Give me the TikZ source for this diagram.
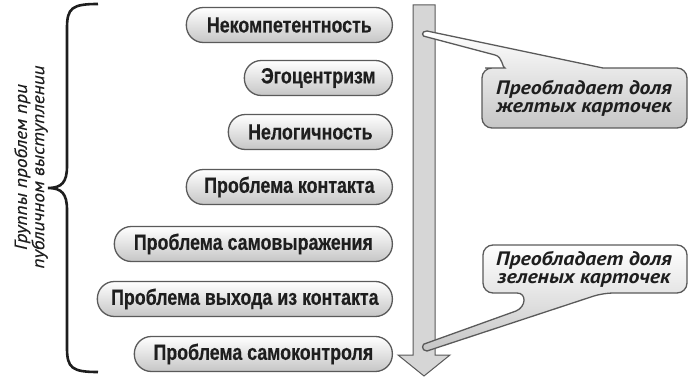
\documentclass[tikz,border=0pt]{standalone}
\usepackage{fontspec}
\setmainfont{Liberation Sans}
\newfontfamily\pillfont{Liberation Sans Bold}[FakeStretch=0.81,FakeBold=0.4]
\newfontfamily\tagfont{PT Sans Bold Italic}[FakeStretch=1.12]
\newfontfamily\sidefont{PT Sans Italic}[FakeStretch=1.1,FakeBold=0.4]
\usetikzlibrary{positioning}
\definecolor{Ink}{HTML}{1E1E1E}
\definecolor{Rim}{HTML}{5A5A5A}
\definecolor{Shaft}{HTML}{D6D6D6}

\begin{document}
\begin{tikzpicture}[x=1pt,y=-1pt,
    pill/.style={draw=Rim,line width=1.3pt,rounded corners=17pt,minimum height=35pt,
      top color=white,bottom color=gray!45,text=Ink,anchor=east,inner xsep=0pt,
      font=\pillfont\fontsize{22}{24}\selectfont},
    tag/.style={draw=Rim,line width=1.3pt,top color=white,bottom color=gray!45},
    tagtext/.style={align=center,text=Ink,font=\tagfont\fontsize{19.5}{18}\selectfont},
    shaft/.style={draw=gray!70!black,line width=1pt,fill=Shaft}
  ]
    \useasboundingbox (0,0) rectangle (688,377);
    % brace and its caption
    \draw[line width=2.6pt,Ink] (98,4) .. controls (72,4) and (67,8) .. (67,28) -- (67,166)
      .. controls (67,182) and (62,188) .. (48,188) .. controls (62,188) and (67,194) .. (67,210)
      -- (67,348) .. controls (67,368) and (72,372) .. (98,372);
    \node[rotate=90,align=center,text=Ink,font=\sidefont\fontsize{17.5}{14.5}\selectfont] (groups)
      at (31,167) {Группы проблем при\\публичном выступлении};
    % problem groups
    \node[pill,minimum width=206pt] (incomp) at (393,25) {Некомпетентность};
    \node[pill,minimum width=148pt] (egocentr) at (393,78) {Эгоцентризм};
    \node[pill,minimum width=164pt] (illogic) at (393,132) {Нелогичность};
    \node[pill,minimum width=206pt] (contact) at (393,187) {Проблема контакта};
    \node[pill,minimum width=278pt] (selfexpr) at (393,244) {Проблема самовыражения};
    \node[pill,minimum width=295pt] (exit) at (393,299) {Проблема выхода из контакта};
    \node[pill,minimum width=258pt] (selfctrl) at (393,354) {Проблема самоконтроля};
    % down arrow
    \draw[shaft] (413,5) -- (435,5) -- (435,355) -- (450,355) -- (424,376) -- (398,355)
      -- (413,355) -- cycle;
    % callouts
    \draw[tag] (427,31) -- (603,68) [rounded corners=10pt] -- (687,68) -- (687,128) -- (482,128)
      -- (482,68) -- (495,68) [sharp corners] .. controls (502,68) and (503,57) .. (495,55)
      -- (427,37) .. controls (421,37) and (421,31) .. (427,31) -- cycle;
    \node[tagtext] (yellow) at (584,98) {Преобладает доля\\желтых карточек};
    \draw[tag] (427,343) -- (516,311) .. controls (526,307) and (527,293) .. (517,293)
      [rounded corners=10pt] -- (483,293) -- (483,245) -- (687,245) -- (687,293) -- (603,293)
      [sharp corners] -- (427,351) .. controls (421,351) and (421,343) .. (427,343) -- cycle;
    \node[tagtext] (green) at (584,269) {Преобладает доля\\зеленых карточек};
  \end{tikzpicture}
\end{document}
